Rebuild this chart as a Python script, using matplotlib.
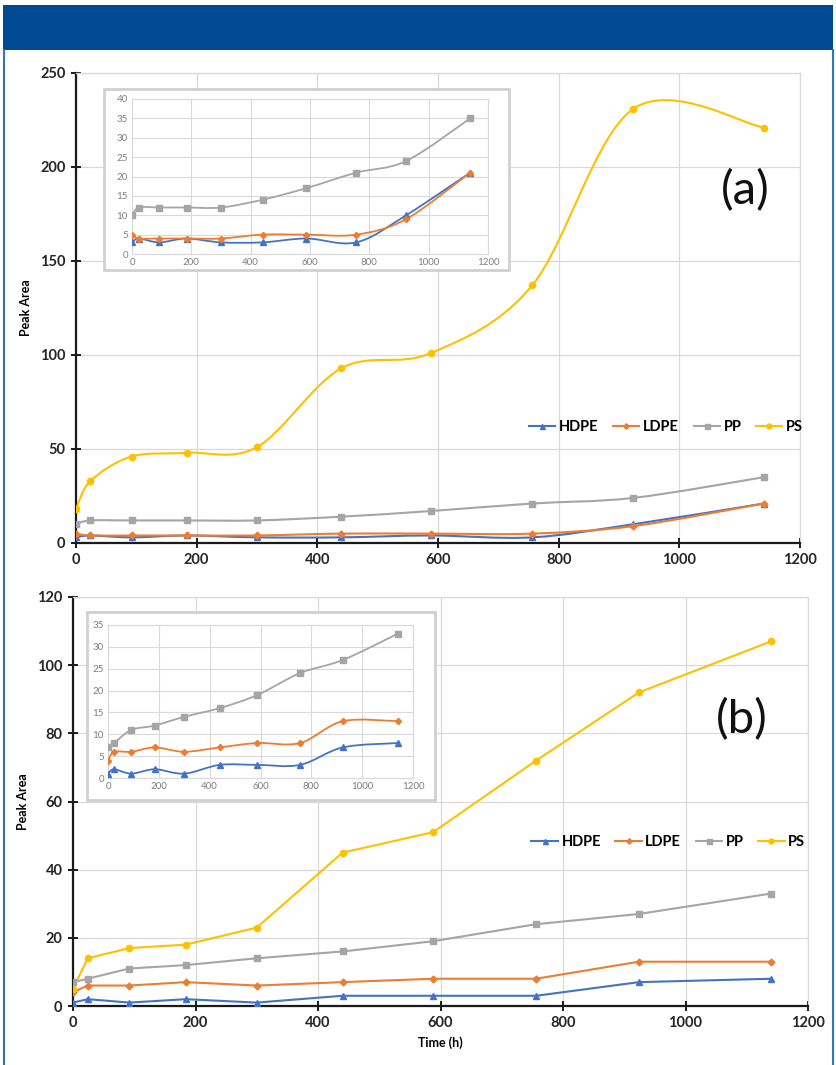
import numpy as np
import matplotlib
matplotlib.use('Agg')
import matplotlib.pyplot as plt
from matplotlib.path import Path
from matplotlib.patches import PathPatch, Rectangle, FancyBboxPatch
from matplotlib.lines import Line2D

plt.rcParams['font.family'] = ['Lato', 'DejaVu Sans']

# Data
time_h = [0, 24, 92, 184, 300, 440, 588, 756, 924, 1140]

# (a)
a_hdpe = [3, 4, 3, 4, 3, 3, 4, 3, 10, 21]
a_ldpe = [5, 4, 4, 4, 4, 5, 5, 5, 9, 21]
a_pp = [10, 12, 12, 12, 12, 14, 17, 21, 24, 35]
a_ps = [18, 33, 46, 48, 51, 93, 101, 137, 231, 221]

# (b)
b_hdpe = [1, 2, 1, 2, 1, 3, 3, 3, 7, 8]
b_ldpe = [4, 6, 6, 7, 6, 7, 8, 8, 13, 13]
b_pp = [7, 8, 11, 12, 14, 16, 19, 24, 27, 33]
b_ps = [5, 14, 17, 18, 23, 45, 51, 72, 92, 107]

names = ['HDPE', 'LDPE', 'PP', 'PS']
colors = ['#4472C4', '#ED7D31', '#A5A5A5', '#FFC000']
markers = ['^', 'D', 's', 'o']
msizes = [4.5, 3.5, 4.5, 4.5]

W, H = 836, 1065
fig = plt.figure(figsize=(W / 100, H / 100), dpi=100)


def px_axes(x0, y0, x1, y1):
    # pixel box (top-left origin) -> figure axes
    return fig.add_axes([x0 / W, 1 - y1 / H, (x1 - x0) / W, (y1 - y0) / H])


def smooth_path(x, y):
    # Excel-like smoothed line: Catmull-Rom Bezier segments through the points
    P = np.column_stack([x, y]).astype(float)
    n = len(P)
    verts = [P[0]]
    codes = [Path.MOVETO]
    for i in range(n - 1):
        p0 = P[i - 1] if i > 0 else P[i]
        p3 = P[i + 2] if i + 2 < n else P[i + 1]
        c1 = P[i] + (P[i + 1] - p0) / 6
        c2 = P[i + 1] - (p3 - P[i]) / 6
        verts += [c1, c2, P[i + 1]]
        codes += [Path.CURVE4] * 3
    return Path(verts, codes)


def draw_series(ax, series, smooth, lw, ms_scale=1.0):
    for vals, c, m, ms in zip(series, colors, markers, msizes):
        if smooth:
            ax.add_patch(PathPatch(smooth_path(time_h, vals), fill=False,
                                   edgecolor=c, lw=lw, zorder=3))
        else:
            ax.plot(time_h, vals, color=c, lw=lw, zorder=3)
        ax.plot(time_h, vals, ls='none', marker=m, color=c,
                ms=ms * ms_scale, zorder=4)


def style_main(ax, ymax, ystep):
    ax.set_xlim(0, 1200)
    ax.set_ylim(0, ymax)
    ax.set_xticks(np.arange(0, 1201, 200))
    ax.set_yticks(np.arange(0, ymax + 1, ystep))
    ax.grid(True, color='#D9D9D9', lw=0.9)
    ax.set_axisbelow(True)
    for s in ['top', 'right']:
        ax.spines[s].set_color('#D9D9D9')
        ax.spines[s].set_linewidth(0.9)
    for s in ['left', 'bottom']:
        ax.spines[s].set_color('#1a1a1a')
        ax.spines[s].set_linewidth(1.6)
    ax.tick_params(direction='inout', length=7, width=1.4, color='#1a1a1a',
                   labelsize=10.5, pad=4)
    for lab in ax.get_xticklabels() + ax.get_yticklabels():
        lab.set_fontweight('bold')
        lab.set_color('#262626')


def style_inset(ax, ymax):
    ax.set_xlim(0, 1200)
    ax.set_ylim(0, ymax)
    ax.set_xticks(np.arange(0, 1201, 200))
    ax.set_yticks(np.arange(0, ymax + 1, 5))
    ax.grid(True, color='#D9D9D9', lw=0.8)
    ax.set_axisbelow(True)
    for s in ax.spines.values():
        s.set_color('#D9D9D9')
        s.set_linewidth(0.8)
    ax.tick_params(length=0, labelsize=7, labelcolor='#7F7F7F', pad=3)


def add_legend(ax, x, y):
    handles = [Line2D([], [], color=c, marker=m, ms=ms * 0.8, lw=1.5)
               for c, m, ms in zip(colors, markers, msizes)]
    leg = ax.legend(handles, names, loc='center', bbox_to_anchor=(x, y),
                    ncol=4, frameon=False, handlelength=1.8, handletextpad=0.25,
                    columnspacing=1.0, prop={'weight': 'bold', 'size': 10.5})
    leg.set_zorder(6)


def inset_frame(x0, y0, x1, y1):
    fig.patches.append(FancyBboxPatch((x0 / W, 1 - y1 / H), (x1 - x0) / W,
                                      (y1 - y0) / H, boxstyle='square,pad=0',
                                      transform=fig.transFigure,
                                      facecolor='white', edgecolor='#D0D0D0',
                                      lw=2.0, zorder=5))


# Header bar and outer frame
fig.patches.append(Rectangle((3 / W, 1 - 50 / H), 830 / W, 45 / H,
                             transform=fig.transFigure, facecolor='#004A94',
                             edgecolor='none', zorder=0))
for xp in (4, 833):
    fig.add_artist(Line2D([xp / W, xp / W], [0, 1 - 50 / H],
                          transform=fig.transFigure, color='#2E75B6', lw=1.5))

# Panel (a)
ax_a = px_axes(76, 73, 800, 543)
style_main(ax_a, 250, 50)
draw_series(ax_a, [a_hdpe, a_ldpe, a_pp, a_ps], smooth=True, lw=1.5)
ax_a.set_ylabel('Peak Area', fontsize=9, fontweight='bold', labelpad=6)
ax_a.text(0.925, 0.75, '(a)', transform=ax_a.transAxes, fontsize=34,
          ha='center', va='center', color='#111111')
add_legend(ax_a, 0.815, 0.247)

inset_frame(104, 89, 509, 270)
ax_ai = px_axes(132, 99, 488, 254)
ax_ai.set_zorder(6)
style_inset(ax_ai, 40)
draw_series(ax_ai, [a_hdpe, a_ldpe, a_pp], smooth=True, lw=1.3, ms_scale=0.9)

# Panel (b)
ax_b = px_axes(73, 597, 808, 1006)
style_main(ax_b, 120, 20)
draw_series(ax_b, [b_hdpe, b_ldpe, b_pp, b_ps], smooth=False, lw=1.5)
ax_b.set_ylabel('Peak Area', fontsize=9, fontweight='bold', labelpad=6)
ax_b.set_xlabel('Time (h)', fontsize=9, fontweight='bold', labelpad=4)
ax_b.text(0.91, 0.70, '(b)', transform=ax_b.transAxes, fontsize=34,
          ha='center', va='center', color='#111111')
add_legend(ax_b, 0.81, 0.40)

inset_frame(87, 612, 435, 800)
ax_bi = px_axes(108, 625, 413, 778)
ax_bi.set_zorder(6)
style_inset(ax_bi, 35)
draw_series(ax_bi, [b_hdpe, b_ldpe, b_pp], smooth=True, lw=1.3, ms_scale=0.9)

fig.savefig('out.png', dpi=100)
